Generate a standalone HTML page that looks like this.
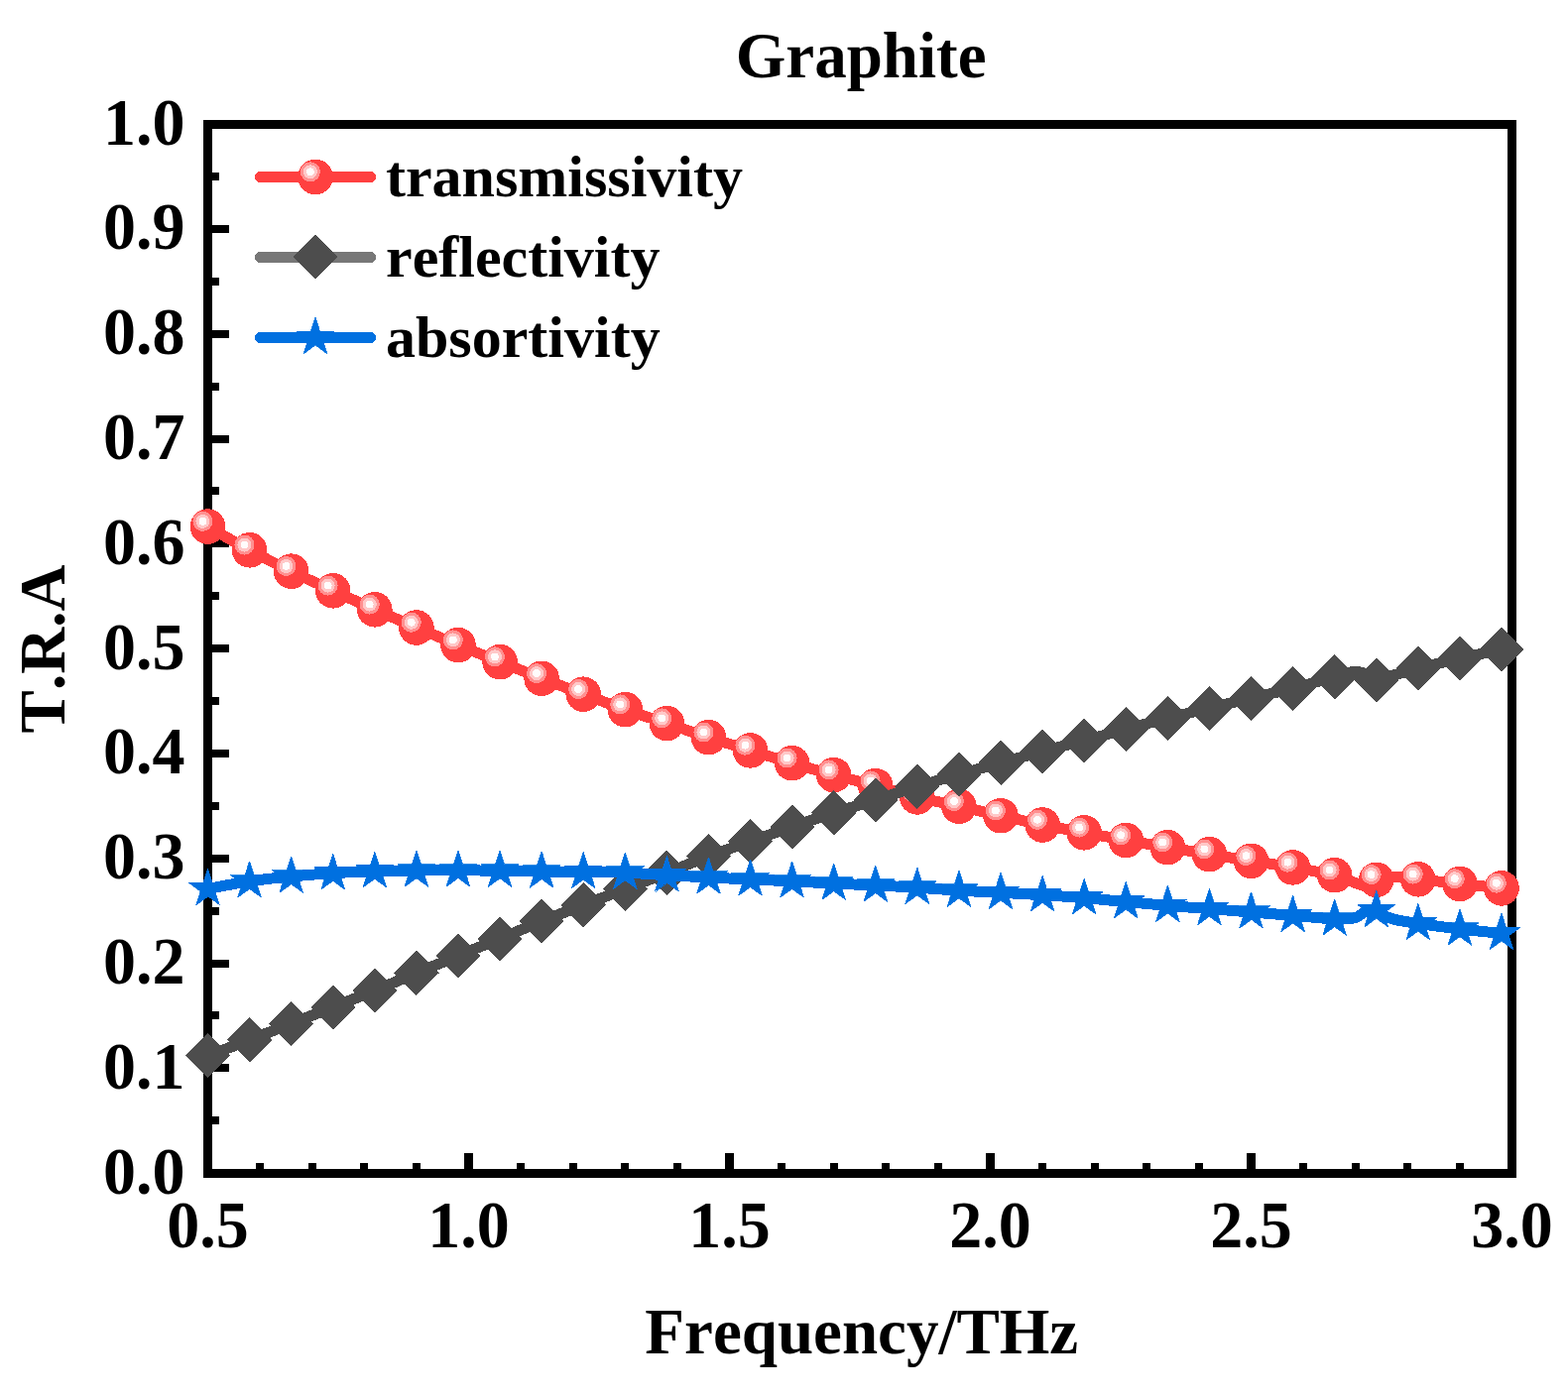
<!DOCTYPE html>
<html lang="en"><head><meta charset="utf-8"><title>Graphite</title>
<style>
html,body{margin:0;padding:0;background:#fff;}
body{width:1581px;height:1409px;overflow:hidden;}
svg{display:block;}
text{font-family:"Liberation Serif","DejaVu Serif",serif;font-weight:bold;fill:#000;font-kerning:none;}
.t{font-size:65px;}
.k{font-size:66px;}
.l{font-size:60px;}
</style></head><body>
<svg width="1581" height="1409" viewBox="0 0 1581 1409">
<rect width="1581" height="1409" fill="#fff"/>
<g shape-rendering="crispEdges" fill="#000">
<rect x="205" y="121" width="1324" height="9"/>
<rect x="205" y="1179" width="1324" height="9"/>
<rect x="205" y="121" width="9" height="1067"/>
<rect x="1520" y="121" width="9" height="1067"/>
<rect x="214" y="1126" width="7" height="8"/>
<rect x="214" y="1073" width="17" height="8"/>
<rect x="214" y="1020" width="7" height="8"/>
<rect x="214" y="968" width="17" height="8"/>
<rect x="214" y="915" width="7" height="8"/>
<rect x="214" y="862" width="17" height="8"/>
<rect x="214" y="809" width="7" height="8"/>
<rect x="214" y="756" width="17" height="8"/>
<rect x="214" y="703" width="7" height="8"/>
<rect x="214" y="650" width="17" height="8"/>
<rect x="214" y="597" width="7" height="8"/>
<rect x="214" y="544" width="17" height="8"/>
<rect x="214" y="491" width="7" height="8"/>
<rect x="214" y="439" width="17" height="8"/>
<rect x="214" y="386" width="7" height="8"/>
<rect x="214" y="333" width="17" height="8"/>
<rect x="214" y="280" width="7" height="8"/>
<rect x="214" y="227" width="17" height="8"/>
<rect x="214" y="174" width="7" height="8"/>
<rect x="258" y="1173" width="8" height="6"/>
<rect x="311" y="1173" width="8" height="6"/>
<rect x="363" y="1173" width="8" height="6"/>
<rect x="416" y="1173" width="8" height="6"/>
<rect x="468" y="1163" width="9" height="16"/>
<rect x="521" y="1173" width="8" height="6"/>
<rect x="574" y="1173" width="8" height="6"/>
<rect x="626" y="1173" width="8" height="6"/>
<rect x="679" y="1173" width="8" height="6"/>
<rect x="731" y="1163" width="9" height="16"/>
<rect x="784" y="1173" width="8" height="6"/>
<rect x="837" y="1173" width="8" height="6"/>
<rect x="889" y="1173" width="8" height="6"/>
<rect x="942" y="1173" width="8" height="6"/>
<rect x="994" y="1163" width="9" height="16"/>
<rect x="1047" y="1173" width="8" height="6"/>
<rect x="1100" y="1173" width="8" height="6"/>
<rect x="1152" y="1173" width="8" height="6"/>
<rect x="1205" y="1173" width="8" height="6"/>
<rect x="1257" y="1163" width="9" height="16"/>
<rect x="1310" y="1173" width="8" height="6"/>
<rect x="1363" y="1173" width="8" height="6"/>
<rect x="1415" y="1173" width="8" height="6"/>
<rect x="1468" y="1173" width="8" height="6"/>
</g>
<g class="k" text-anchor="end">
<text transform="translate(186.5 1203.5) scale(1 1.04)">0.0</text>
<text transform="translate(186.5 1097.7) scale(1 1.04)">0.1</text>
<text transform="translate(186.5 991.9) scale(1 1.04)">0.2</text>
<text transform="translate(186.5 886.1) scale(1 1.04)">0.3</text>
<text transform="translate(186.5 780.3) scale(1 1.04)">0.4</text>
<text transform="translate(186.5 674.5) scale(1 1.04)">0.5</text>
<text transform="translate(186.5 568.7) scale(1 1.04)">0.6</text>
<text transform="translate(186.5 462.9) scale(1 1.04)">0.7</text>
<text transform="translate(186.5 357.1) scale(1 1.04)">0.8</text>
<text transform="translate(186.5 251.3) scale(1 1.04)">0.9</text>
<text transform="translate(186.5 145.5) scale(1 1.04)">1.0</text>
</g>
<g class="k" text-anchor="middle">
<text transform="translate(209.5 1258.3) scale(1 1.04)">0.5</text>
<text transform="translate(472.5 1258.3) scale(1 1.04)">1.0</text>
<text transform="translate(735.5 1258.3) scale(1 1.04)">1.5</text>
<text transform="translate(998.5 1258.3) scale(1 1.04)">2.0</text>
<text transform="translate(1261.5 1258.3) scale(1 1.04)">2.5</text>
<text transform="translate(1524.5 1258.3) scale(1 1.04)">3.0</text>
</g>
<text class="t" text-anchor="middle" x="868.2" y="78">Graphite</text>
<text class="t" text-anchor="middle" x="868.8" y="1365">Frequency/THz</text>
<text class="t" text-anchor="middle" transform="translate(64.7 654.5) rotate(-90)">T.R.A</text>
<g shape-rendering="crispEdges">
<g fill="none" stroke-width="11" stroke-linecap="round">
<path d="M262.5 178.5 H373.5" stroke="#FF4040"/>
<path d="M262.5 259.4 H373.5" stroke="#777777"/>
<path d="M262.5 340.4 H373.5" stroke="#0070E0"/>
</g>
<circle cx="318" cy="178.5" r="17.8" fill="#FF4040"/><circle cx="312.9" cy="173.3" r="10" fill="#FF9090"/><circle cx="312.9" cy="173.3" r="7" fill="#FFC8C8"/><circle cx="312.9" cy="173.3" r="3.9" fill="#FFFCFC"/>
<polygon points="318,236.4 340.6,259 318,281.6 295.4,259" fill="#4D4D4D"/>
<polygon points="318,320.2 322.54,334.16 337.21,334.16 325.34,342.78 329.87,356.74 318,348.12 306.13,356.74 310.66,342.78 298.79,334.16 313.46,334.16" fill="#0070E0" stroke="#0070E0" stroke-width="0.8" stroke-miterlimit="10"/>
</g>
<g class="l">
<text x="389" y="198.3">transmissivity</text>
<text x="389" y="279.3">reflectivity</text>
<text x="389" y="360.2">absortivity</text>
</g>
<g shape-rendering="crispEdges">
<g>
<path d="M209.5 531.1C216.51 535.05 237.55 547.28 251.58 554.8C265.61 562.32 279.63 569.37 293.66 576.2C307.69 583.03 321.71 589.37 335.74 595.8C349.77 602.23 363.79 608.6 377.82 614.8C391.85 621 405.87 627.03 419.9 633C433.93 638.97 447.95 644.83 461.98 650.6C476.01 656.37 490.03 661.98 504.06 667.6C518.09 673.22 532.11 678.87 546.14 684.3C560.17 689.73 574.19 694.98 588.22 700.2C602.25 705.42 616.27 710.7 630.3 715.6C644.33 720.5 658.35 724.92 672.38 729.6C686.41 734.28 700.43 739.15 714.46 743.7C728.49 748.25 742.51 752.57 756.54 756.9C770.57 761.23 784.59 765.58 798.62 769.7C812.65 773.82 826.67 777.78 840.7 781.6C854.73 785.42 868.75 788.88 882.78 792.6C896.81 796.32 910.83 800.45 924.86 803.9C938.89 807.35 952.91 810.17 966.94 813.3C980.97 816.43 994.99 819.58 1009.02 822.7C1023.05 825.82 1037.07 829.15 1051.1 832C1065.13 834.85 1079.15 837.22 1093.18 839.8C1107.21 842.38 1121.23 845.02 1135.26 847.5C1149.29 849.98 1163.31 852.33 1177.34 854.7C1191.37 857.07 1205.39 859.43 1219.42 861.7C1233.45 863.97 1247.47 866.1 1261.5 868.3C1275.53 870.5 1289.55 872.5 1303.58 874.9C1317.61 877.3 1336.89 880.77 1345.66 882.7C1354.43 884.63 1352.69 885.2 1356.2 886.5C1359.71 887.8 1363.2 889.33 1366.7 890.5C1370.2 891.67 1373.69 894.03 1377.2 893.5C1380.71 892.97 1384.22 888.67 1387.74 887.3C1391.26 885.93 1394.79 885.77 1398.3 885.3C1401.81 884.83 1405.3 884.47 1408.8 884.5C1412.3 884.53 1415.8 885.12 1419.3 885.5C1422.8 885.88 1421.05 885.82 1429.82 886.8C1438.59 887.78 1457.87 889.88 1471.9 891.4C1485.93 892.92 1506.97 895.15 1513.98 895.9" fill="none" stroke="#FF4040" stroke-width="11" stroke-linecap="round" stroke-linejoin="round"/>
<circle cx="209.5" cy="531.1" r="17.8" fill="#FF4040"/><circle cx="204.4" cy="525.9" r="10" fill="#FF9090"/><circle cx="204.4" cy="525.9" r="7" fill="#FFC8C8"/><circle cx="204.4" cy="525.9" r="3.9" fill="#FFFCFC"/>
<circle cx="251.58" cy="554.8" r="17.8" fill="#FF4040"/><circle cx="246.48" cy="549.6" r="10" fill="#FF9090"/><circle cx="246.48" cy="549.6" r="7" fill="#FFC8C8"/><circle cx="246.48" cy="549.6" r="3.9" fill="#FFFCFC"/>
<circle cx="293.66" cy="576.2" r="17.8" fill="#FF4040"/><circle cx="288.56" cy="571" r="10" fill="#FF9090"/><circle cx="288.56" cy="571" r="7" fill="#FFC8C8"/><circle cx="288.56" cy="571" r="3.9" fill="#FFFCFC"/>
<circle cx="335.74" cy="595.8" r="17.8" fill="#FF4040"/><circle cx="330.64" cy="590.6" r="10" fill="#FF9090"/><circle cx="330.64" cy="590.6" r="7" fill="#FFC8C8"/><circle cx="330.64" cy="590.6" r="3.9" fill="#FFFCFC"/>
<circle cx="377.82" cy="614.8" r="17.8" fill="#FF4040"/><circle cx="372.72" cy="609.6" r="10" fill="#FF9090"/><circle cx="372.72" cy="609.6" r="7" fill="#FFC8C8"/><circle cx="372.72" cy="609.6" r="3.9" fill="#FFFCFC"/>
<circle cx="419.9" cy="633" r="17.8" fill="#FF4040"/><circle cx="414.8" cy="627.8" r="10" fill="#FF9090"/><circle cx="414.8" cy="627.8" r="7" fill="#FFC8C8"/><circle cx="414.8" cy="627.8" r="3.9" fill="#FFFCFC"/>
<circle cx="461.98" cy="650.6" r="17.8" fill="#FF4040"/><circle cx="456.88" cy="645.4" r="10" fill="#FF9090"/><circle cx="456.88" cy="645.4" r="7" fill="#FFC8C8"/><circle cx="456.88" cy="645.4" r="3.9" fill="#FFFCFC"/>
<circle cx="504.06" cy="667.6" r="17.8" fill="#FF4040"/><circle cx="498.96" cy="662.4" r="10" fill="#FF9090"/><circle cx="498.96" cy="662.4" r="7" fill="#FFC8C8"/><circle cx="498.96" cy="662.4" r="3.9" fill="#FFFCFC"/>
<circle cx="546.14" cy="684.3" r="17.8" fill="#FF4040"/><circle cx="541.04" cy="679.1" r="10" fill="#FF9090"/><circle cx="541.04" cy="679.1" r="7" fill="#FFC8C8"/><circle cx="541.04" cy="679.1" r="3.9" fill="#FFFCFC"/>
<circle cx="588.22" cy="700.2" r="17.8" fill="#FF4040"/><circle cx="583.12" cy="695" r="10" fill="#FF9090"/><circle cx="583.12" cy="695" r="7" fill="#FFC8C8"/><circle cx="583.12" cy="695" r="3.9" fill="#FFFCFC"/>
<circle cx="630.3" cy="715.6" r="17.8" fill="#FF4040"/><circle cx="625.2" cy="710.4" r="10" fill="#FF9090"/><circle cx="625.2" cy="710.4" r="7" fill="#FFC8C8"/><circle cx="625.2" cy="710.4" r="3.9" fill="#FFFCFC"/>
<circle cx="672.38" cy="729.6" r="17.8" fill="#FF4040"/><circle cx="667.28" cy="724.4" r="10" fill="#FF9090"/><circle cx="667.28" cy="724.4" r="7" fill="#FFC8C8"/><circle cx="667.28" cy="724.4" r="3.9" fill="#FFFCFC"/>
<circle cx="714.46" cy="743.7" r="17.8" fill="#FF4040"/><circle cx="709.36" cy="738.5" r="10" fill="#FF9090"/><circle cx="709.36" cy="738.5" r="7" fill="#FFC8C8"/><circle cx="709.36" cy="738.5" r="3.9" fill="#FFFCFC"/>
<circle cx="756.54" cy="756.9" r="17.8" fill="#FF4040"/><circle cx="751.44" cy="751.7" r="10" fill="#FF9090"/><circle cx="751.44" cy="751.7" r="7" fill="#FFC8C8"/><circle cx="751.44" cy="751.7" r="3.9" fill="#FFFCFC"/>
<circle cx="798.62" cy="769.7" r="17.8" fill="#FF4040"/><circle cx="793.52" cy="764.5" r="10" fill="#FF9090"/><circle cx="793.52" cy="764.5" r="7" fill="#FFC8C8"/><circle cx="793.52" cy="764.5" r="3.9" fill="#FFFCFC"/>
<circle cx="840.7" cy="781.6" r="17.8" fill="#FF4040"/><circle cx="835.6" cy="776.4" r="10" fill="#FF9090"/><circle cx="835.6" cy="776.4" r="7" fill="#FFC8C8"/><circle cx="835.6" cy="776.4" r="3.9" fill="#FFFCFC"/>
<circle cx="882.78" cy="792.6" r="17.8" fill="#FF4040"/><circle cx="877.68" cy="787.4" r="10" fill="#FF9090"/><circle cx="877.68" cy="787.4" r="7" fill="#FFC8C8"/><circle cx="877.68" cy="787.4" r="3.9" fill="#FFFCFC"/>
<circle cx="924.86" cy="803.9" r="17.8" fill="#FF4040"/><circle cx="919.76" cy="798.7" r="10" fill="#FF9090"/><circle cx="919.76" cy="798.7" r="7" fill="#FFC8C8"/><circle cx="919.76" cy="798.7" r="3.9" fill="#FFFCFC"/>
<circle cx="966.94" cy="813.3" r="17.8" fill="#FF4040"/><circle cx="961.84" cy="808.1" r="10" fill="#FF9090"/><circle cx="961.84" cy="808.1" r="7" fill="#FFC8C8"/><circle cx="961.84" cy="808.1" r="3.9" fill="#FFFCFC"/>
<circle cx="1009.02" cy="822.7" r="17.8" fill="#FF4040"/><circle cx="1003.92" cy="817.5" r="10" fill="#FF9090"/><circle cx="1003.92" cy="817.5" r="7" fill="#FFC8C8"/><circle cx="1003.92" cy="817.5" r="3.9" fill="#FFFCFC"/>
<circle cx="1051.1" cy="832" r="17.8" fill="#FF4040"/><circle cx="1046" cy="826.8" r="10" fill="#FF9090"/><circle cx="1046" cy="826.8" r="7" fill="#FFC8C8"/><circle cx="1046" cy="826.8" r="3.9" fill="#FFFCFC"/>
<circle cx="1093.18" cy="839.8" r="17.8" fill="#FF4040"/><circle cx="1088.08" cy="834.6" r="10" fill="#FF9090"/><circle cx="1088.08" cy="834.6" r="7" fill="#FFC8C8"/><circle cx="1088.08" cy="834.6" r="3.9" fill="#FFFCFC"/>
<circle cx="1135.26" cy="847.5" r="17.8" fill="#FF4040"/><circle cx="1130.16" cy="842.3" r="10" fill="#FF9090"/><circle cx="1130.16" cy="842.3" r="7" fill="#FFC8C8"/><circle cx="1130.16" cy="842.3" r="3.9" fill="#FFFCFC"/>
<circle cx="1177.34" cy="854.7" r="17.8" fill="#FF4040"/><circle cx="1172.24" cy="849.5" r="10" fill="#FF9090"/><circle cx="1172.24" cy="849.5" r="7" fill="#FFC8C8"/><circle cx="1172.24" cy="849.5" r="3.9" fill="#FFFCFC"/>
<circle cx="1219.42" cy="861.7" r="17.8" fill="#FF4040"/><circle cx="1214.32" cy="856.5" r="10" fill="#FF9090"/><circle cx="1214.32" cy="856.5" r="7" fill="#FFC8C8"/><circle cx="1214.32" cy="856.5" r="3.9" fill="#FFFCFC"/>
<circle cx="1261.5" cy="868.3" r="17.8" fill="#FF4040"/><circle cx="1256.4" cy="863.1" r="10" fill="#FF9090"/><circle cx="1256.4" cy="863.1" r="7" fill="#FFC8C8"/><circle cx="1256.4" cy="863.1" r="3.9" fill="#FFFCFC"/>
<circle cx="1303.58" cy="874.9" r="17.8" fill="#FF4040"/><circle cx="1298.48" cy="869.7" r="10" fill="#FF9090"/><circle cx="1298.48" cy="869.7" r="7" fill="#FFC8C8"/><circle cx="1298.48" cy="869.7" r="3.9" fill="#FFFCFC"/>
<circle cx="1345.66" cy="882.7" r="17.8" fill="#FF4040"/><circle cx="1340.56" cy="877.5" r="10" fill="#FF9090"/><circle cx="1340.56" cy="877.5" r="7" fill="#FFC8C8"/><circle cx="1340.56" cy="877.5" r="3.9" fill="#FFFCFC"/>
<circle cx="1387.74" cy="887.3" r="17.8" fill="#FF4040"/><circle cx="1382.64" cy="882.1" r="10" fill="#FF9090"/><circle cx="1382.64" cy="882.1" r="7" fill="#FFC8C8"/><circle cx="1382.64" cy="882.1" r="3.9" fill="#FFFCFC"/>
<circle cx="1429.82" cy="886.8" r="17.8" fill="#FF4040"/><circle cx="1424.72" cy="881.6" r="10" fill="#FF9090"/><circle cx="1424.72" cy="881.6" r="7" fill="#FFC8C8"/><circle cx="1424.72" cy="881.6" r="3.9" fill="#FFFCFC"/>
<circle cx="1471.9" cy="891.4" r="17.8" fill="#FF4040"/><circle cx="1466.8" cy="886.2" r="10" fill="#FF9090"/><circle cx="1466.8" cy="886.2" r="7" fill="#FFC8C8"/><circle cx="1466.8" cy="886.2" r="3.9" fill="#FFFCFC"/>
<circle cx="1513.98" cy="895.9" r="17.8" fill="#FF4040"/><circle cx="1508.88" cy="890.7" r="10" fill="#FF9090"/><circle cx="1508.88" cy="890.7" r="7" fill="#FFC8C8"/><circle cx="1508.88" cy="890.7" r="3.9" fill="#FFFCFC"/>
</g>
<g>
<path d="M209.5 1064.8C216.51 1062.15 237.55 1054.32 251.58 1048.9C265.61 1043.48 279.63 1037.78 293.66 1032.3C307.69 1026.82 321.71 1021.55 335.74 1016C349.77 1010.45 363.79 1004.75 377.82 999C391.85 993.25 405.87 987.33 419.9 981.5C433.93 975.67 447.95 969.8 461.98 964C476.01 958.2 490.03 952.5 504.06 946.7C518.09 940.9 532.11 934.85 546.14 929.2C560.17 923.55 574.19 918.22 588.22 912.8C602.25 907.38 616.27 902.13 630.3 896.7C644.33 891.27 658.35 885.68 672.38 880.2C686.41 874.72 700.43 869.07 714.46 863.8C728.49 858.53 742.51 853.57 756.54 848.6C770.57 843.63 784.59 838.8 798.62 834C812.65 829.2 826.67 824.32 840.7 819.8C854.73 815.28 868.75 811.3 882.78 806.9C896.81 802.5 910.83 797.72 924.86 793.4C938.89 789.08 952.91 785 966.94 781C980.97 777 994.99 773.27 1009.02 769.4C1023.05 765.53 1037.07 761.53 1051.1 757.8C1065.13 754.07 1079.15 750.73 1093.18 747C1107.21 743.27 1121.23 739.17 1135.26 735.4C1149.29 731.63 1163.31 727.93 1177.34 724.4C1191.37 720.87 1205.39 717.57 1219.42 714.2C1233.45 710.83 1247.47 707.53 1261.5 704.2C1275.53 700.87 1289.55 697.77 1303.58 694.2C1317.61 690.63 1336.89 685.23 1345.66 682.8C1354.43 680.37 1352.69 680.53 1356.2 679.6C1359.71 678.67 1363.2 677.13 1366.7 677.2C1370.2 677.27 1373.69 678.52 1377.2 680C1380.71 681.48 1384.22 685.68 1387.74 686.1C1391.26 686.52 1394.79 683.52 1398.3 682.5C1401.81 681.48 1405.3 680.88 1408.8 680C1412.3 679.12 1415.8 678.17 1419.3 677.2C1422.8 676.23 1421.05 676.38 1429.82 674.2C1438.59 672.02 1457.87 667.27 1471.9 664.1C1485.93 660.93 1506.97 656.68 1513.98 655.2" fill="none" stroke="#4D4D4D" stroke-width="11" stroke-linecap="round" stroke-linejoin="round"/>
<polygon points="209.5,1042.2 232.1,1064.8 209.5,1087.4 186.9,1064.8" fill="#4D4D4D"/>
<polygon points="251.58,1026.3 274.18,1048.9 251.58,1071.5 228.98,1048.9" fill="#4D4D4D"/>
<polygon points="293.66,1009.7 316.26,1032.3 293.66,1054.9 271.06,1032.3" fill="#4D4D4D"/>
<polygon points="335.74,993.4 358.34,1016 335.74,1038.6 313.14,1016" fill="#4D4D4D"/>
<polygon points="377.82,976.4 400.42,999 377.82,1021.6 355.22,999" fill="#4D4D4D"/>
<polygon points="419.9,958.9 442.5,981.5 419.9,1004.1 397.3,981.5" fill="#4D4D4D"/>
<polygon points="461.98,941.4 484.58,964 461.98,986.6 439.38,964" fill="#4D4D4D"/>
<polygon points="504.06,924.1 526.66,946.7 504.06,969.3 481.46,946.7" fill="#4D4D4D"/>
<polygon points="546.14,906.6 568.74,929.2 546.14,951.8 523.54,929.2" fill="#4D4D4D"/>
<polygon points="588.22,890.2 610.82,912.8 588.22,935.4 565.62,912.8" fill="#4D4D4D"/>
<polygon points="630.3,874.1 652.9,896.7 630.3,919.3 607.7,896.7" fill="#4D4D4D"/>
<polygon points="672.38,857.6 694.98,880.2 672.38,902.8 649.78,880.2" fill="#4D4D4D"/>
<polygon points="714.46,841.2 737.06,863.8 714.46,886.4 691.86,863.8" fill="#4D4D4D"/>
<polygon points="756.54,826 779.14,848.6 756.54,871.2 733.94,848.6" fill="#4D4D4D"/>
<polygon points="798.62,811.4 821.22,834 798.62,856.6 776.02,834" fill="#4D4D4D"/>
<polygon points="840.7,797.2 863.3,819.8 840.7,842.4 818.1,819.8" fill="#4D4D4D"/>
<polygon points="882.78,784.3 905.38,806.9 882.78,829.5 860.18,806.9" fill="#4D4D4D"/>
<polygon points="924.86,770.8 947.46,793.4 924.86,816 902.26,793.4" fill="#4D4D4D"/>
<polygon points="966.94,758.4 989.54,781 966.94,803.6 944.34,781" fill="#4D4D4D"/>
<polygon points="1009.02,746.8 1031.62,769.4 1009.02,792 986.42,769.4" fill="#4D4D4D"/>
<polygon points="1051.1,735.2 1073.7,757.8 1051.1,780.4 1028.5,757.8" fill="#4D4D4D"/>
<polygon points="1093.18,724.4 1115.78,747 1093.18,769.6 1070.58,747" fill="#4D4D4D"/>
<polygon points="1135.26,712.8 1157.86,735.4 1135.26,758 1112.66,735.4" fill="#4D4D4D"/>
<polygon points="1177.34,701.8 1199.94,724.4 1177.34,747 1154.74,724.4" fill="#4D4D4D"/>
<polygon points="1219.42,691.6 1242.02,714.2 1219.42,736.8 1196.82,714.2" fill="#4D4D4D"/>
<polygon points="1261.5,681.6 1284.1,704.2 1261.5,726.8 1238.9,704.2" fill="#4D4D4D"/>
<polygon points="1303.58,671.6 1326.18,694.2 1303.58,716.8 1280.98,694.2" fill="#4D4D4D"/>
<polygon points="1345.66,660.2 1368.26,682.8 1345.66,705.4 1323.06,682.8" fill="#4D4D4D"/>
<polygon points="1387.74,663.5 1410.34,686.1 1387.74,708.7 1365.14,686.1" fill="#4D4D4D"/>
<polygon points="1429.82,651.6 1452.42,674.2 1429.82,696.8 1407.22,674.2" fill="#4D4D4D"/>
<polygon points="1471.9,641.5 1494.5,664.1 1471.9,686.7 1449.3,664.1" fill="#4D4D4D"/>
<polygon points="1513.98,632.6 1536.58,655.2 1513.98,677.8 1491.38,655.2" fill="#4D4D4D"/>
</g>
<g>
<path d="M209.5 896.6C216.51 895.3 237.55 890.9 251.58 888.8C265.61 886.7 279.63 885.35 293.66 884C307.69 882.65 321.71 881.58 335.74 880.7C349.77 879.82 363.79 879.15 377.82 878.7C391.85 878.25 405.87 878.13 419.9 878C433.93 877.87 447.95 877.87 461.98 877.9C476.01 877.93 490.03 878.02 504.06 878.2C518.09 878.38 532.11 878.78 546.14 879C560.17 879.22 574.19 879.3 588.22 879.5C602.25 879.7 616.27 879.67 630.3 880.2C644.33 880.73 658.35 881.9 672.38 882.7C686.41 883.5 700.43 884.28 714.46 885C728.49 885.72 742.51 886.37 756.54 887C770.57 887.63 784.59 888.12 798.62 888.8C812.65 889.48 826.67 890.4 840.7 891.1C854.73 891.8 868.75 892.32 882.78 893C896.81 893.68 910.83 894.33 924.86 895.2C938.89 896.07 952.91 897.33 966.94 898.2C980.97 899.07 994.99 899.65 1009.02 900.4C1023.05 901.15 1037.07 901.82 1051.1 902.7C1065.13 903.58 1079.15 904.55 1093.18 905.7C1107.21 906.85 1121.23 908.32 1135.26 909.6C1149.29 910.88 1163.31 912.23 1177.34 913.4C1191.37 914.57 1205.39 915.5 1219.42 916.6C1233.45 917.7 1247.47 918.87 1261.5 920C1275.53 921.13 1289.55 922.23 1303.58 923.4C1317.61 924.57 1336.89 926.45 1345.66 927C1354.43 927.55 1352.69 926.93 1356.2 926.7C1359.71 926.47 1363.2 926.8 1366.7 925.6C1370.2 924.4 1373.69 920.67 1377.2 919.5C1380.71 918.33 1384.22 917.73 1387.74 918.6C1391.26 919.47 1394.79 923.13 1398.3 924.7C1401.81 926.27 1405.3 927.15 1408.8 928C1412.3 928.85 1415.8 929.22 1419.3 929.8C1422.8 930.38 1421.05 930.3 1429.82 931.5C1438.59 932.7 1457.87 935.35 1471.9 937C1485.93 938.65 1506.97 940.67 1513.98 941.4" fill="none" stroke="#0070E0" stroke-width="11" stroke-linecap="round" stroke-linejoin="round"/>
<polygon points="209.5,876.4 214.04,890.36 228.71,890.36 216.84,898.98 221.37,912.94 209.5,904.32 197.63,912.94 202.16,898.98 190.29,890.36 204.96,890.36" fill="#0070E0" stroke="#0070E0" stroke-width="0.8" stroke-miterlimit="10"/>
<polygon points="251.58,868.6 256.12,882.56 270.79,882.56 258.92,891.18 263.45,905.14 251.58,896.52 239.71,905.14 244.24,891.18 232.37,882.56 247.04,882.56" fill="#0070E0" stroke="#0070E0" stroke-width="0.8" stroke-miterlimit="10"/>
<polygon points="293.66,863.8 298.2,877.76 312.87,877.76 301,886.38 305.53,900.34 293.66,891.72 281.79,900.34 286.32,886.38 274.45,877.76 289.12,877.76" fill="#0070E0" stroke="#0070E0" stroke-width="0.8" stroke-miterlimit="10"/>
<polygon points="335.74,860.5 340.28,874.46 354.95,874.46 343.08,883.08 347.61,897.04 335.74,888.42 323.87,897.04 328.4,883.08 316.53,874.46 331.2,874.46" fill="#0070E0" stroke="#0070E0" stroke-width="0.8" stroke-miterlimit="10"/>
<polygon points="377.82,858.5 382.36,872.46 397.03,872.46 385.16,881.08 389.69,895.04 377.82,886.42 365.95,895.04 370.48,881.08 358.61,872.46 373.28,872.46" fill="#0070E0" stroke="#0070E0" stroke-width="0.8" stroke-miterlimit="10"/>
<polygon points="419.9,857.8 424.44,871.76 439.11,871.76 427.24,880.38 431.77,894.34 419.9,885.72 408.03,894.34 412.56,880.38 400.69,871.76 415.36,871.76" fill="#0070E0" stroke="#0070E0" stroke-width="0.8" stroke-miterlimit="10"/>
<polygon points="461.98,857.7 466.52,871.66 481.19,871.66 469.32,880.28 473.85,894.24 461.98,885.62 450.11,894.24 454.64,880.28 442.77,871.66 457.44,871.66" fill="#0070E0" stroke="#0070E0" stroke-width="0.8" stroke-miterlimit="10"/>
<polygon points="504.06,858 508.6,871.96 523.27,871.96 511.4,880.58 515.93,894.54 504.06,885.92 492.19,894.54 496.72,880.58 484.85,871.96 499.52,871.96" fill="#0070E0" stroke="#0070E0" stroke-width="0.8" stroke-miterlimit="10"/>
<polygon points="546.14,858.8 550.68,872.76 565.35,872.76 553.48,881.38 558.01,895.34 546.14,886.72 534.27,895.34 538.8,881.38 526.93,872.76 541.6,872.76" fill="#0070E0" stroke="#0070E0" stroke-width="0.8" stroke-miterlimit="10"/>
<polygon points="588.22,859.3 592.76,873.26 607.43,873.26 595.56,881.88 600.09,895.84 588.22,887.22 576.35,895.84 580.88,881.88 569.01,873.26 583.68,873.26" fill="#0070E0" stroke="#0070E0" stroke-width="0.8" stroke-miterlimit="10"/>
<polygon points="630.3,860 634.84,873.96 649.51,873.96 637.64,882.58 642.17,896.54 630.3,887.92 618.43,896.54 622.96,882.58 611.09,873.96 625.76,873.96" fill="#0070E0" stroke="#0070E0" stroke-width="0.8" stroke-miterlimit="10"/>
<polygon points="672.38,862.5 676.92,876.46 691.59,876.46 679.72,885.08 684.25,899.04 672.38,890.42 660.51,899.04 665.04,885.08 653.17,876.46 667.84,876.46" fill="#0070E0" stroke="#0070E0" stroke-width="0.8" stroke-miterlimit="10"/>
<polygon points="714.46,864.8 719,878.76 733.67,878.76 721.8,887.38 726.33,901.34 714.46,892.72 702.59,901.34 707.12,887.38 695.25,878.76 709.92,878.76" fill="#0070E0" stroke="#0070E0" stroke-width="0.8" stroke-miterlimit="10"/>
<polygon points="756.54,866.8 761.08,880.76 775.75,880.76 763.88,889.38 768.41,903.34 756.54,894.72 744.67,903.34 749.2,889.38 737.33,880.76 752,880.76" fill="#0070E0" stroke="#0070E0" stroke-width="0.8" stroke-miterlimit="10"/>
<polygon points="798.62,868.6 803.16,882.56 817.83,882.56 805.96,891.18 810.49,905.14 798.62,896.52 786.75,905.14 791.28,891.18 779.41,882.56 794.08,882.56" fill="#0070E0" stroke="#0070E0" stroke-width="0.8" stroke-miterlimit="10"/>
<polygon points="840.7,870.9 845.24,884.86 859.91,884.86 848.04,893.48 852.57,907.44 840.7,898.82 828.83,907.44 833.36,893.48 821.49,884.86 836.16,884.86" fill="#0070E0" stroke="#0070E0" stroke-width="0.8" stroke-miterlimit="10"/>
<polygon points="882.78,872.8 887.32,886.76 901.99,886.76 890.12,895.38 894.65,909.34 882.78,900.72 870.91,909.34 875.44,895.38 863.57,886.76 878.24,886.76" fill="#0070E0" stroke="#0070E0" stroke-width="0.8" stroke-miterlimit="10"/>
<polygon points="924.86,875 929.4,888.96 944.07,888.96 932.2,897.58 936.73,911.54 924.86,902.92 912.99,911.54 917.52,897.58 905.65,888.96 920.32,888.96" fill="#0070E0" stroke="#0070E0" stroke-width="0.8" stroke-miterlimit="10"/>
<polygon points="966.94,878 971.48,891.96 986.15,891.96 974.28,900.58 978.81,914.54 966.94,905.92 955.07,914.54 959.6,900.58 947.73,891.96 962.4,891.96" fill="#0070E0" stroke="#0070E0" stroke-width="0.8" stroke-miterlimit="10"/>
<polygon points="1009.02,880.2 1013.56,894.16 1028.23,894.16 1016.36,902.78 1020.89,916.74 1009.02,908.12 997.15,916.74 1001.68,902.78 989.81,894.16 1004.48,894.16" fill="#0070E0" stroke="#0070E0" stroke-width="0.8" stroke-miterlimit="10"/>
<polygon points="1051.1,882.5 1055.64,896.46 1070.31,896.46 1058.44,905.08 1062.97,919.04 1051.1,910.42 1039.23,919.04 1043.76,905.08 1031.89,896.46 1046.56,896.46" fill="#0070E0" stroke="#0070E0" stroke-width="0.8" stroke-miterlimit="10"/>
<polygon points="1093.18,885.5 1097.72,899.46 1112.39,899.46 1100.52,908.08 1105.05,922.04 1093.18,913.42 1081.31,922.04 1085.84,908.08 1073.97,899.46 1088.64,899.46" fill="#0070E0" stroke="#0070E0" stroke-width="0.8" stroke-miterlimit="10"/>
<polygon points="1135.26,889.4 1139.8,903.36 1154.47,903.36 1142.6,911.98 1147.13,925.94 1135.26,917.32 1123.39,925.94 1127.92,911.98 1116.05,903.36 1130.72,903.36" fill="#0070E0" stroke="#0070E0" stroke-width="0.8" stroke-miterlimit="10"/>
<polygon points="1177.34,893.2 1181.88,907.16 1196.55,907.16 1184.68,915.78 1189.21,929.74 1177.34,921.12 1165.47,929.74 1170,915.78 1158.13,907.16 1172.8,907.16" fill="#0070E0" stroke="#0070E0" stroke-width="0.8" stroke-miterlimit="10"/>
<polygon points="1219.42,896.4 1223.96,910.36 1238.63,910.36 1226.76,918.98 1231.29,932.94 1219.42,924.32 1207.55,932.94 1212.08,918.98 1200.21,910.36 1214.88,910.36" fill="#0070E0" stroke="#0070E0" stroke-width="0.8" stroke-miterlimit="10"/>
<polygon points="1261.5,899.8 1266.04,913.76 1280.71,913.76 1268.84,922.38 1273.37,936.34 1261.5,927.72 1249.63,936.34 1254.16,922.38 1242.29,913.76 1256.96,913.76" fill="#0070E0" stroke="#0070E0" stroke-width="0.8" stroke-miterlimit="10"/>
<polygon points="1303.58,903.2 1308.12,917.16 1322.79,917.16 1310.92,925.78 1315.45,939.74 1303.58,931.12 1291.71,939.74 1296.24,925.78 1284.37,917.16 1299.04,917.16" fill="#0070E0" stroke="#0070E0" stroke-width="0.8" stroke-miterlimit="10"/>
<polygon points="1345.66,906.8 1350.2,920.76 1364.87,920.76 1353,929.38 1357.53,943.34 1345.66,934.72 1333.79,943.34 1338.32,929.38 1326.45,920.76 1341.12,920.76" fill="#0070E0" stroke="#0070E0" stroke-width="0.8" stroke-miterlimit="10"/>
<polygon points="1387.74,898.4 1392.28,912.36 1406.95,912.36 1395.08,920.98 1399.61,934.94 1387.74,926.32 1375.87,934.94 1380.4,920.98 1368.53,912.36 1383.2,912.36" fill="#0070E0" stroke="#0070E0" stroke-width="0.8" stroke-miterlimit="10"/>
<polygon points="1429.82,911.3 1434.36,925.26 1449.03,925.26 1437.16,933.88 1441.69,947.84 1429.82,939.22 1417.95,947.84 1422.48,933.88 1410.61,925.26 1425.28,925.26" fill="#0070E0" stroke="#0070E0" stroke-width="0.8" stroke-miterlimit="10"/>
<polygon points="1471.9,916.8 1476.44,930.76 1491.11,930.76 1479.24,939.38 1483.77,953.34 1471.9,944.72 1460.03,953.34 1464.56,939.38 1452.69,930.76 1467.36,930.76" fill="#0070E0" stroke="#0070E0" stroke-width="0.8" stroke-miterlimit="10"/>
<polygon points="1513.98,921.2 1518.52,935.16 1533.19,935.16 1521.32,943.78 1525.85,957.74 1513.98,949.12 1502.11,957.74 1506.64,943.78 1494.77,935.16 1509.44,935.16" fill="#0070E0" stroke="#0070E0" stroke-width="0.8" stroke-miterlimit="10"/>
</g>
</g>
</svg>
</body></html>
